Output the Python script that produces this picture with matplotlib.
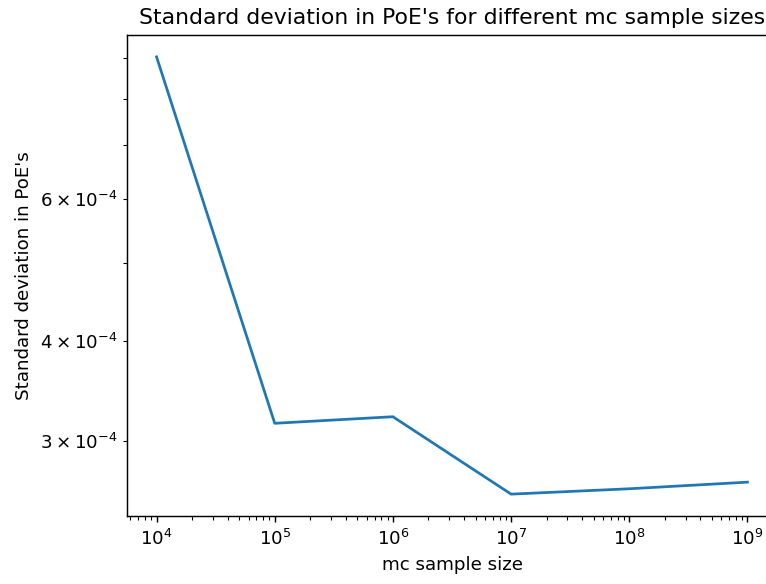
import matplotlib
matplotlib.use("Agg")
import matplotlib.pyplot as plt

sample_sizes = [1e4, 1e5, 1e6, 1e7, 1e8, 1e9]
std_poe = [9.02e-4, 3.16e-4, 3.22e-4, 2.58e-4, 2.62e-4, 2.67e-4]

DPI = 131
fig = plt.figure(figsize=(766 / DPI, 584 / DPI), dpi=DPI)
# axes runs past the right edge of the canvas, as in the original export
ax = fig.add_axes([127 / 766, 1 - 516 / 584, 650 / 766, 481 / 584])
ax.plot(sample_sizes, std_poe, color="#1f77b4")
ax.set_xscale("log")
ax.set_yscale("log")
ax.set_title("Standard deviation in PoE's for different mc sample sizes")
ax.set_xlabel("mc sample size")
ax.set_ylabel("Standard deviation in PoE's")
fig.savefig("out.png", dpi=DPI)
